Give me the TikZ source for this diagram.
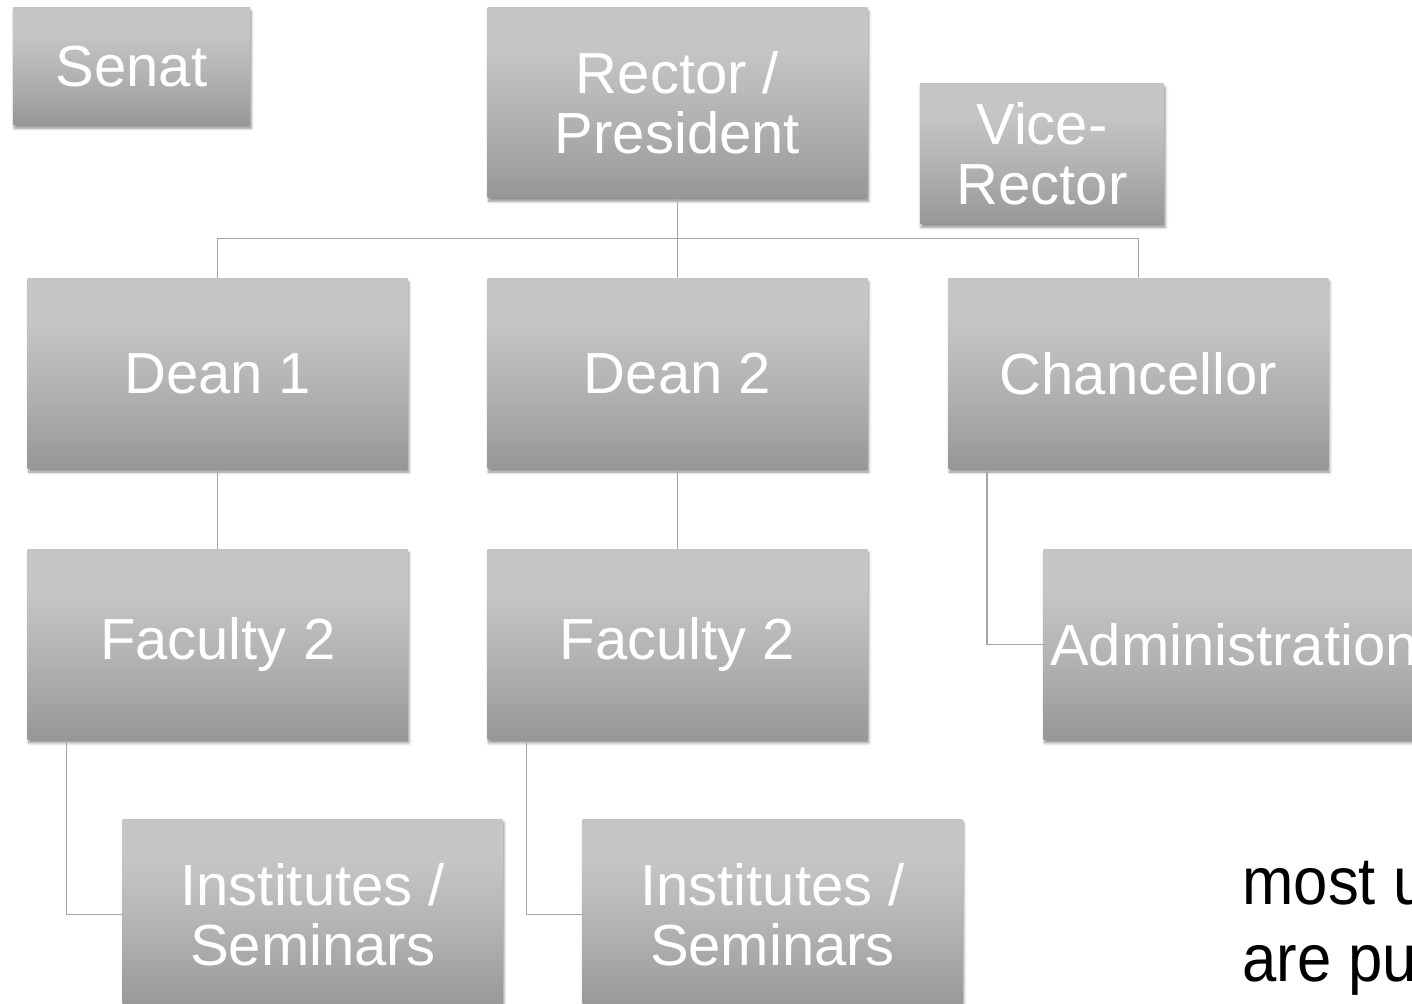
\documentclass[tikz,border=0pt]{standalone}
\usepackage{fontspec}
\setmainfont{Liberation Sans}
\newfontfamily\noteface[FakeStretch=0.92]{Liberation Sans}
\usepackage{tikz}
\usetikzlibrary{positioning, calc, shadows.blur}
\definecolor{boxtop}{RGB}{197,197,197}
\definecolor{boxmid}{RGB}{177,177,177}
\definecolor{boxbot}{RGB}{151,151,151}
\definecolor{linkgray}{RGB}{165,165,165}
\pgfdeclareverticalshading{boxgrad}{100bp}{color(0bp)=(boxbot); color(25bp)=(boxbot); color(45bp)=(boxmid); color(64bp)=(boxtop); color(100bp)=(boxtop)}
\tikzset{orgbox/.style={rectangle,shading=boxgrad,text=white,align=center,
                        minimum width=190pt,minimum height=95pt,
                        font=\fontsize{29}{30}\selectfont,
                        blur shadow={shadow xshift=0.6pt,shadow yshift=-1.6pt,
                        shadow blur radius=1.4pt,shadow opacity=45}},
         link/.style={draw=linkgray,line width=0.6pt}}

\begin{document}
\begin{tikzpicture}[x=0.5pt,y=-0.5pt]%
                                      \useasboundingbox (0,0) rectangle (1412,1004);
                                      \clip (0,0) rectangle (1412,1004);
                                      \node[orgbox] (R) at (677.5,103) {Rector /\\President};
                                      \node[orgbox,minimum width=118.5pt,minimum height=58.5pt] (S) at (131.5,66.5) {Senat};
                                      \node[orgbox,minimum width=122pt,minimum height=70pt] (V) at (1042,154) {Vice-\\Rector};
                                      \node[orgbox,below=40pt of R] (D-2) {Dean 2};
                                      \node[orgbox,left=39.5pt of D-2] (D-1) {Dean 1};
                                      \node[orgbox,right=40pt of D-2] (C) {Chancellor};
                                      \node[orgbox,below=40pt of C,xshift=47.75pt] (A) {Administration};
                                      \foreach \Y in {1,2}
                                      {\node[orgbox,below=40pt of D-\Y] (F-\Y) {Faculty 2};
                                      \node[orgbox,below=39.5pt of F-\Y,xshift=47.5pt] (I-\Y) {Institutes /\\Seminars};
                                      \draw[link] (D-\Y.south) -- (F-\Y.north);
                                      \draw[link] ([xshift=19.5pt]F-\Y.south west) |- (I-\Y.west);}
                                      \coordinate (bus) at ($(R.south)!0.5!(D-2.north)$);
                                      \draw[link] (R.south) -- (D-2.north);
                                      \draw[link] (D-1.north) |- (bus) -| (C.north);
                                      \draw[link] ([xshift=19.5pt]C.south west) |- (A.west);
                                      \foreach \X [count=\Y] in {most u,are pu}
                                      {\node[anchor=base west,inner sep=0pt,font=\noteface\fontsize{33.5}{38}\selectfont]
                                      (M-\Y) at (1242,827+77*\Y) {\X};}
        \end{tikzpicture}
\end{document}
